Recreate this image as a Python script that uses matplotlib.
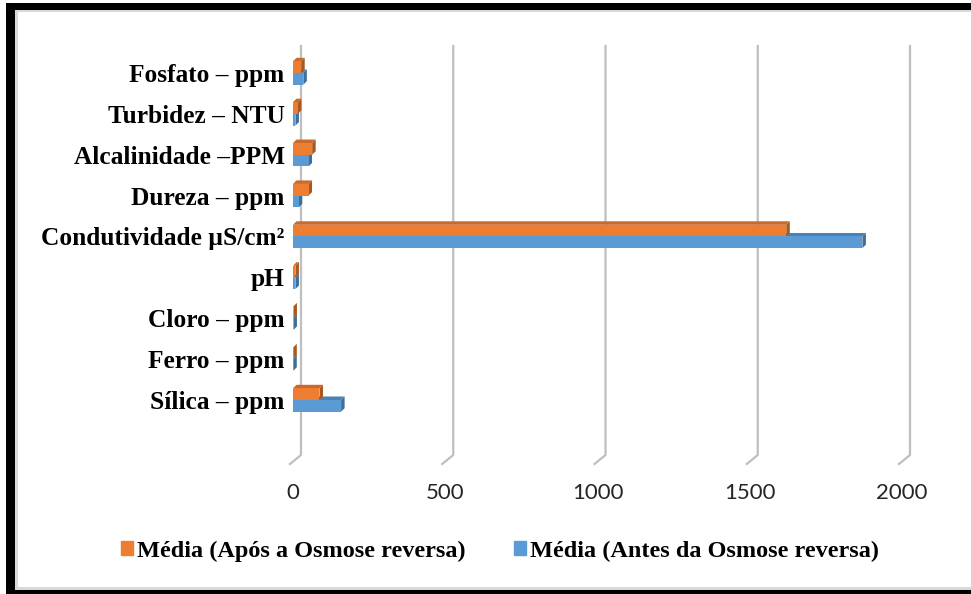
import numpy as np
import matplotlib
matplotlib.use("Agg")
import matplotlib.pyplot as plt
from matplotlib.patches import Polygon, Rectangle, Patch
from matplotlib.lines import Line2D
from matplotlib.transforms import IdentityTransform
from matplotlib.font_manager import FontProperties

# dados (de baixo para cima, como no gráfico)
categorias = ["Sílica – ppm", "Ferro – ppm", "Cloro – ppm", "pH",
              "Condutividade µS/cm²", "Dureza – ppm", "Alcalinidade –PPM",
              "Turbidez – NTU", "Fosfato – ppm"]
apos = [87, 1, 1.5, 8, 1620, 51, 63, 16, 27]
antes = [158, 1, 1.5, 8, 1870, 19, 51, 8, 34]
ticks = [0, 500, 1000, 1500, 2000]
serie_apos = "Média (Após a Osmose reversa)"
serie_antes = "Média (Antes da Osmose reversa)"

W, H = 971, 594
LARANJA, LARANJA_TOPO, LARANJA_LADO = "#ED7D31", "#C9692A", "#A9581F"
AZUL, AZUL_TOPO, AZUL_LADO = "#5B9BD5", "#4A82B5", "#3E6F9C"
LEG = dict(family="Liberation Serif", weight="bold", size=17.5)
ROT = dict(family="Liberation Serif", weight="bold", size=18.3)

fig = plt.figure(figsize=(W / 100, H / 100), dpi=100)
ax = fig.add_axes([293 / W, 1 - 464 / H, (902 - 293) / W, (464 - 46) / H])
ax.set_xlim(0, 2000)
ax.set_ylim(-1.566, 8.66)
ax.set_frame_on(False)

y = np.arange(len(categorias))
h = 0.286
d = 3.5  # profundidade "3D" em pixels


def profundidade(x1, yb, yt, cor_topo, cor_lado, z):
    (X0, Yb), (X1, Yt) = ax.transData.transform([(0, yb), (x1, yt)])
    topo = [(X0, Yt), (X1, Yt), (X1 + d, Yt + d), (X0 + d, Yt + d)]
    lado = [(X1, Yb), (X1 + d, Yb + d), (X1 + d, Yt + d), (X1, Yt)]
    for pts, c in ((topo, cor_topo), (lado, cor_lado)):
        ax.add_patch(Polygon(pts, closed=True, facecolor=c, edgecolor="none",
                             transform=IdentityTransform(), zorder=z,
                             clip_on=False))


# linhas de grade (parede do fundo + piso inclinado)
for t in ticks:
    X = ax.transData.transform((t, 0))[0] + 8
    ax.add_line(Line2D([X, X, X - 11], [H - 46, H - 455, H - 464],
                       color="#BFBFBF", lw=1.6, transform=IdentityTransform(),
                       clip_on=False, zorder=1))

for yi, v in zip(y, antes):
    profundidade(v, yi - h, yi, AZUL_TOPO, AZUL_LADO, 2)
ax.barh(y - h / 2, antes, height=h, color=AZUL, zorder=3)
for yi, v in zip(y, apos):
    profundidade(v, yi, yi + h, LARANJA_TOPO, LARANJA_LADO, 4)
ax.barh(y + h / 2, apos, height=h, color=LARANJA, zorder=5)

ax.set_yticks(y, categorias)
for lab in ax.get_yticklabels():
    lab.set_fontproperties(FontProperties(**ROT))
ax.tick_params(axis="y", length=0, pad=6, colors="black")
ax.set_xticks(ticks, [str(t) for t in ticks])
ax.tick_params(axis="x", length=0, pad=14, labelsize=16, labelcolor="#262626")
for lab in ax.get_xticklabels():
    lab.set_family("Lato")

handles = [Patch(color=LARANJA, label=serie_apos), Patch(color=AZUL, label=serie_antes)]
fig.legend(handles=handles, loc="center", bbox_to_anchor=(500 / W, 1 - 551 / H),
           ncol=2, frameon=False, prop=LEG, handlelength=0.5, handleheight=0.5,
           handletextpad=0.15, columnspacing=2.0)

# moldura preta
def ret(x, y0, w, hh, c):
    fig.add_artist(Rectangle((x / W, 1 - (y0 + hh) / H), w / W, hh / H,
                             transform=fig.transFigure, color=c, lw=0))

ret(15, 10, 3, 577, "#D9D9D9")
ret(15, 10, 956, 2, "#D9D9D9")
ret(15, 587, 956, 3, "#D9D9D9")
ret(6, 3, 9, 591, "black")
ret(6, 3, 965, 7, "black")
ret(6, 590, 965, 4, "black")

fig.savefig("out.png", dpi=100)
